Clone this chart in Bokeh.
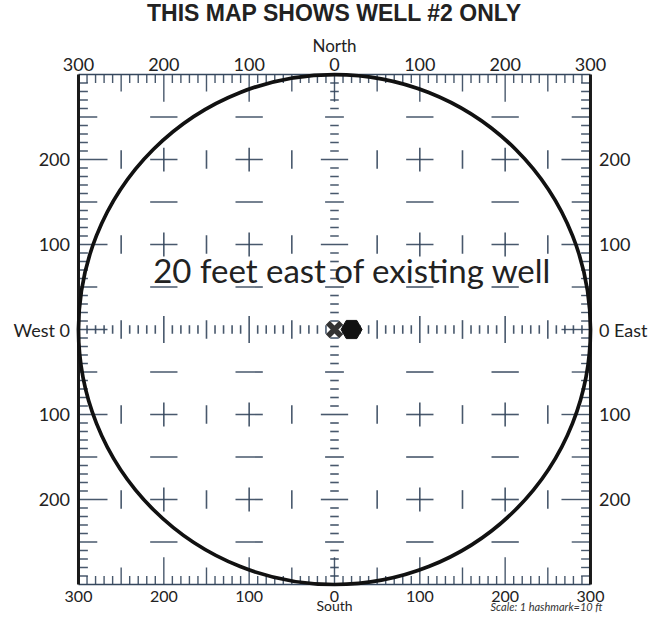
import numpy as np
from bokeh.plotting import figure
from bokeh.models import Range1d
from bokeh.core.properties import value
from bokeh.embed import file_html
from bokeh.resources import INLINE

# ---- data ----
title_text = "THIS MAP SHOWS WELL #2 ONLY"
x_tick_pos = [-300, -200, -100, 0, 100, 200, 300]
x_tick_labels = ["300", "200", "100", "0", "100", "200", "300"]
y_tick_pos = [200, 100, 0, -100, -200]
left_labels = ["200", "100", "West 0", "100", "200"]
right_labels = ["200", "100", "0  East", "100", "200"]
extent = 300          # feet from centre to frame edge
hashmark = 10         # 1 hashmark = 10 ft
circle_radius = 300   # ft
existing_well = (0, 0)
new_well = (20, 0)
note_text = "20 feet east of existing well"
scale_text = "Scale:  1 hashmark=10 ft"
cross_pos = [-200, -100, 100, 200]
half_pos = [-250, -150, -50, 50, 150, 250]

ink = "#34465c"
font = value("Lato")

p = figure(width=651, height=614, x_range=Range1d(-391.4, 371.5),
           y_range=Range1d(-335.3, 387.1), output_backend="svg",
           toolbar_location=None, min_border=0,
           x_axis_location=None, y_axis_location=None)
p.grid.visible = False
p.outline_line_color = None
p.background_fill_color = "white"

marks = np.arange(-extent, extent + 1, hashmark)


def tick_len(v, short, mid, long_):
    if v % 100 == 0:
        return long_
    if v % 50 == 0:
        return mid
    return short


# edge hashmarks
inner = [int(m) for m in marks if abs(m) < extent]
top_len = [tick_len(m, 10, 20, 32) for m in inner]
side_len = [tick_len(m, 11, 22, 34) for m in inner]
seg = dict(line_color=ink, line_width=1.4, line_alpha=0.9)
p.segment(x0=inner, y0=[extent] * len(inner), x1=inner,
          y1=[extent - l for l in top_len], **seg)
p.segment(x0=inner, y0=[-extent] * len(inner), x1=inner,
          y1=[-extent + l for l in top_len], **seg)
p.segment(x0=[-extent] * len(inner), y0=inner, x1=[-extent + l for l in side_len],
          y1=inner, **seg)
p.segment(x0=[extent] * len(inner), y0=inner, x1=[extent - l for l in side_len],
          y1=inner, **seg)

# frame
p.segment(x0=[-extent, -extent], y0=[extent, -extent], x1=[extent, extent],
          y1=[extent, -extent], line_color=ink, line_width=1.6)
p.segment(x0=[-extent, extent], y0=[-extent, -extent], x1=[-extent, extent],
          y1=[extent, extent], line_color="#1a1a1a", line_width=3)

# central axes hashmarks
seg2 = dict(line_color=ink, line_width=1.6, line_alpha=0.9)
cm = [m for m in inner if m != 0]
c_len = [tick_len(m, 5, 11, 16) for m in cm]
p.segment(x0=cm, y0=[-l for l in c_len], x1=cm, y1=c_len, **seg2)
p.segment(x0=[-l for l in c_len], y0=cm, x1=c_len, y1=cm, **seg2)

# grid crosses
cx = [x for x in cross_pos for y in cross_pos]
cy = [y for x in cross_pos for y in cross_pos]
p.segment(x0=[x - 16 for x in cx], y0=cy, x1=[x + 16 for x in cx], y1=cy, **seg2)
p.segment(x0=cx, y0=[y - 14 for y in cy], x1=cx, y1=[y + 14 for y in cy], **seg2)
# horizontal dashes between rows
hx = [x for x in cross_pos for y in half_pos]
hy = [y for x in cross_pos for y in half_pos]
p.segment(x0=[x - 16 for x in hx], y0=hy, x1=[x + 16 for x in hx], y1=hy, **seg2)
# vertical dashes between columns
vx = [x for x in half_pos for y in cross_pos]
vy = [y for x in half_pos for y in cross_pos]
p.segment(x0=vx, y0=[y - 11 for y in vy], x1=vx, y1=[y + 11 for y in vy], **seg2)

# circle
p.ellipse(x=[0], y=[0], width=[2 * circle_radius], height=[2 * circle_radius],
          fill_color=None, line_color="#111111", line_width=3.7)

# wells
p.scatter(x=[existing_well[0]], y=[existing_well[1]], marker="x", size=19,
          line_color="#333333", line_width=5.5)
p.scatter(x=[new_well[0]], y=[new_well[1]], marker="hex", size=21,
          fill_color="#111111", line_color="#111111")

# note
p.text(x=[21], y=[70], text=[note_text], text_font=font, text_font_size="33px",
       text_color="#222222", text_align="center", text_baseline="middle")

# tick labels
lab = dict(text_font=font, text_font_size="18px", text_color="#222222",
           text_baseline="middle")
p.text(x=x_tick_pos, y=[312] * 7, text=x_tick_labels, text_align="center", **lab)
p.text(x=x_tick_pos, y=[-314.1] * 7, text=x_tick_labels, text_align="center",
       text_font=font, text_font_size="16px", text_color="#222222",
       text_baseline="middle")
p.text(x=[-310] * 5, y=y_tick_pos, text=left_labels, text_align="right", **lab)
p.text(x=[310] * 5, y=y_tick_pos, text=right_labels, text_align="left", **lab)

# compass words
p.text(x=[0], y=[334.1], text=["North"], text_font=font, text_font_size="17px",
       text_color="#222222", text_align="center", text_baseline="middle")
p.text(x=[0], y=[-324.7], text=["South"], text_font=font, text_font_size="14px",
       text_color="#222222", text_align="center", text_baseline="middle")
p.text(x=[250], y=[-325.9], text=[scale_text], text_font=font,
       text_font_size="11px", text_font_style="italic", text_color="#333333",
       text_align="center", text_baseline="middle")

# title
p.text(x=[0], y=[372.9], text=[title_text], text_font=value("Liberation Sans"),
       text_font_size="23px", text_font_style="bold", text_color="#222222",
       text_align="center", text_baseline="middle")

open("out.html", "w").write(file_html(p, INLINE))
